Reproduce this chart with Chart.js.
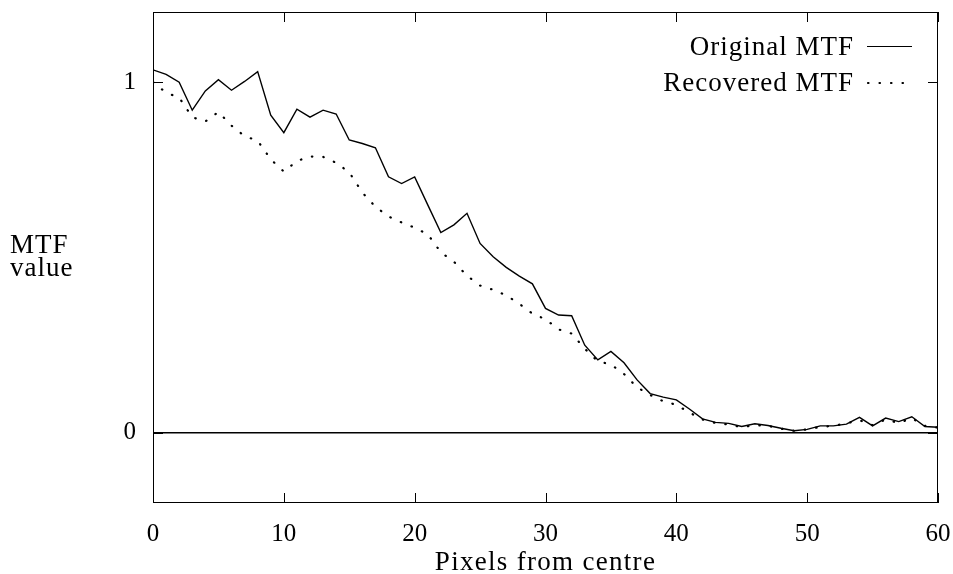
<!DOCTYPE html>
<html>
<head>
<meta charset="utf-8">
<script src="https://cdn.jsdelivr.net/npm/chart.js@4/dist/chart.umd.min.js"></script>
<style>
  html, body { margin: 0; padding: 0; background: #fff; }
  #wrap { width: 953px; height: 574px; }
</style>
</head>
<body>
<div id="wrap"><canvas id="mtf" width="953" height="574"></canvas></div>
<script>
// Pixels from centre (x positions)
const pixels = [0, 1, 2, 3, 4, 5, 6, 7, 8, 9, 10, 11, 12, 13, 14, 15, 16, 17, 18, 19, 20,
  21, 22, 23, 24, 25, 26, 27, 28, 29, 30, 31, 32, 33, 34, 35, 36, 37, 38, 39, 40,
  41, 42, 43, 44, 45, 46, 47, 48, 49, 50, 51, 52, 53, 54, 55, 56, 57, 58, 59, 60];

const originalMTF = [1.035, 1.022, 1.0, 0.92, 0.975, 1.007, 0.977, 1.002, 1.03, 0.906, 0.856,
  0.923, 0.9, 0.92, 0.909, 0.835, 0.825, 0.813, 0.73, 0.711, 0.73,
  0.65, 0.571, 0.593, 0.626, 0.54, 0.502, 0.472, 0.447, 0.425, 0.355,
  0.336, 0.334, 0.25, 0.208, 0.232, 0.2, 0.151, 0.112, 0.102, 0.094,
  0.068, 0.04, 0.03, 0.027, 0.018, 0.026, 0.021, 0.013, 0.006, 0.01,
  0.02, 0.02, 0.025, 0.044, 0.02, 0.042, 0.032, 0.046, 0.018, 0.016];

const recoveredMTF = [1.0, 0.97, 0.956, 0.9, 0.888, 0.915, 0.876, 0.846, 0.833, 0.78, 0.745,
  0.775, 0.788, 0.787, 0.77, 0.743, 0.685, 0.645, 0.617, 0.6, 0.585,
  0.566, 0.515, 0.488, 0.448, 0.42, 0.408, 0.392, 0.368, 0.34, 0.324,
  0.295, 0.283, 0.24, 0.204, 0.195, 0.168, 0.13, 0.108, 0.09, 0.08,
  0.058, 0.038, 0.028, 0.024, 0.016, 0.022, 0.02, 0.012, 0.006, 0.01,
  0.017, 0.02, 0.027, 0.036, 0.022, 0.038, 0.028, 0.042, 0.02, 0.015];

const xTicks = [0, 10, 20, 30, 40, 50, 60];
const yTicks = [0, 1];
const seriesNames = ['Original MTF', 'Recovered MTF'];

const SERIF = '"Liberation Serif", "Times New Roman", serif';
const TICK_LEN = 10;

function toPoints(ys) {
  return pixels.map((x, i) => ({ x: x, y: ys[i] }));
}

// box, inward ticks, legend and axis titles
const framePlugin = {
  id: 'frame',
  afterDraw(chart) {
    const { ctx, chartArea: a, scales } = chart;
    const xs = scales.x, ys = scales.y;
    ctx.save();
    ctx.strokeStyle = '#000';
    ctx.lineWidth = 1;
    ctx.strokeRect(a.left + 0.5, a.top + 0.5, a.right - a.left - 1, a.bottom - a.top - 1);

    ctx.beginPath();
    xTicks.forEach(v => {
      const px = Math.round(xs.getPixelForValue(v)) + 0.5;
      ctx.moveTo(px, a.bottom); ctx.lineTo(px, a.bottom - TICK_LEN);
      ctx.moveTo(px, a.top); ctx.lineTo(px, a.top + TICK_LEN);
    });
    yTicks.forEach(v => {
      const py = Math.round(ys.getPixelForValue(v)) + 0.5;
      ctx.moveTo(a.left, py); ctx.lineTo(a.left + TICK_LEN, py);
      ctx.moveTo(a.right, py); ctx.lineTo(a.right - TICK_LEN, py);
    });
    ctx.stroke();

    // legend
    ctx.fillStyle = '#000';
    ctx.font = '27px ' + SERIF;
    ctx.letterSpacing = '1px';
    ctx.textAlign = 'right';
    ctx.textBaseline = 'alphabetic';
    ctx.fillText(seriesNames[0], 854, 55);
    ctx.fillText(seriesNames[1], 854, 91);

    ctx.lineWidth = 1.2;
    ctx.beginPath();
    ctx.moveTo(867, 46.5); ctx.lineTo(912, 46.5);
    ctx.stroke();

    ctx.lineWidth = 2.2;
    ctx.lineCap = 'round';
    ctx.setLineDash([0.5, 11]);
    ctx.beginPath();
    ctx.moveTo(868, 83); ctx.lineTo(914, 83);
    ctx.stroke();
    ctx.setLineDash([]);

    // axis titles
    ctx.textAlign = 'left';
    ctx.fillText('MTF', 10, 253);
    ctx.fillText('value', 10, 276);
    ctx.letterSpacing = '1.3px';
    ctx.textAlign = 'center';
    ctx.fillText('Pixels from centre', (a.left + a.right) / 2, 570);
    ctx.restore();
  }
};

new Chart(document.getElementById('mtf'), {
  type: 'line',
  data: {
    datasets: [
      {
        label: seriesNames[0],
        data: toPoints(originalMTF),
        borderColor: '#000',
        borderWidth: 1.4,
        pointRadius: 0,
        tension: 0,
      },
      {
        label: seriesNames[1],
        data: toPoints(recoveredMTF),
        borderColor: '#000',
        borderWidth: 2.2,
        borderDash: [0.5, 11],
        borderCapStyle: 'round',
        pointRadius: 0,
        tension: 0,
      },
    ],
  },
  options: {
    responsive: false,
    animation: false,
    devicePixelRatio: 1,
    layout: { padding: { top: 12, right: 15, left: 0, bottom: 0 } },
    plugins: {
      legend: { display: false },
      tooltip: { enabled: false },
    },
    scales: {
      x: {
        type: 'linear',
        min: 0,
        max: 60,
        afterBuildTicks: s => { s.ticks = xTicks.map(v => ({ value: v })); },
        afterFit: s => { s.height = 71; s.paddingLeft = 0; s.paddingRight = 0; },
        ticks: { color: '#000', font: { family: SERIF, size: 25 }, padding: 16, maxRotation: 0 },
        grid: { display: false, drawTicks: false },
        border: { display: false },
      },
      y: {
        type: 'linear',
        min: -0.2,
        max: 1.2,
        afterBuildTicks: s => { s.ticks = yTicks.map(v => ({ value: v })); },
        afterFit: s => { s.width = 153; s.paddingTop = 0; s.paddingBottom = 0; },
        ticks: { color: '#000', font: { family: SERIF, size: 25 }, padding: 17 },
        grid: {
          drawTicks: false,
          color: c => (c.tick && c.tick.value === 0 ? '#000' : 'rgba(0,0,0,0)'),
          lineWidth: 1.6,
        },
        border: { display: false },
      },
    },
  },
  plugins: [framePlugin],
});
</script>
</body>
</html>
